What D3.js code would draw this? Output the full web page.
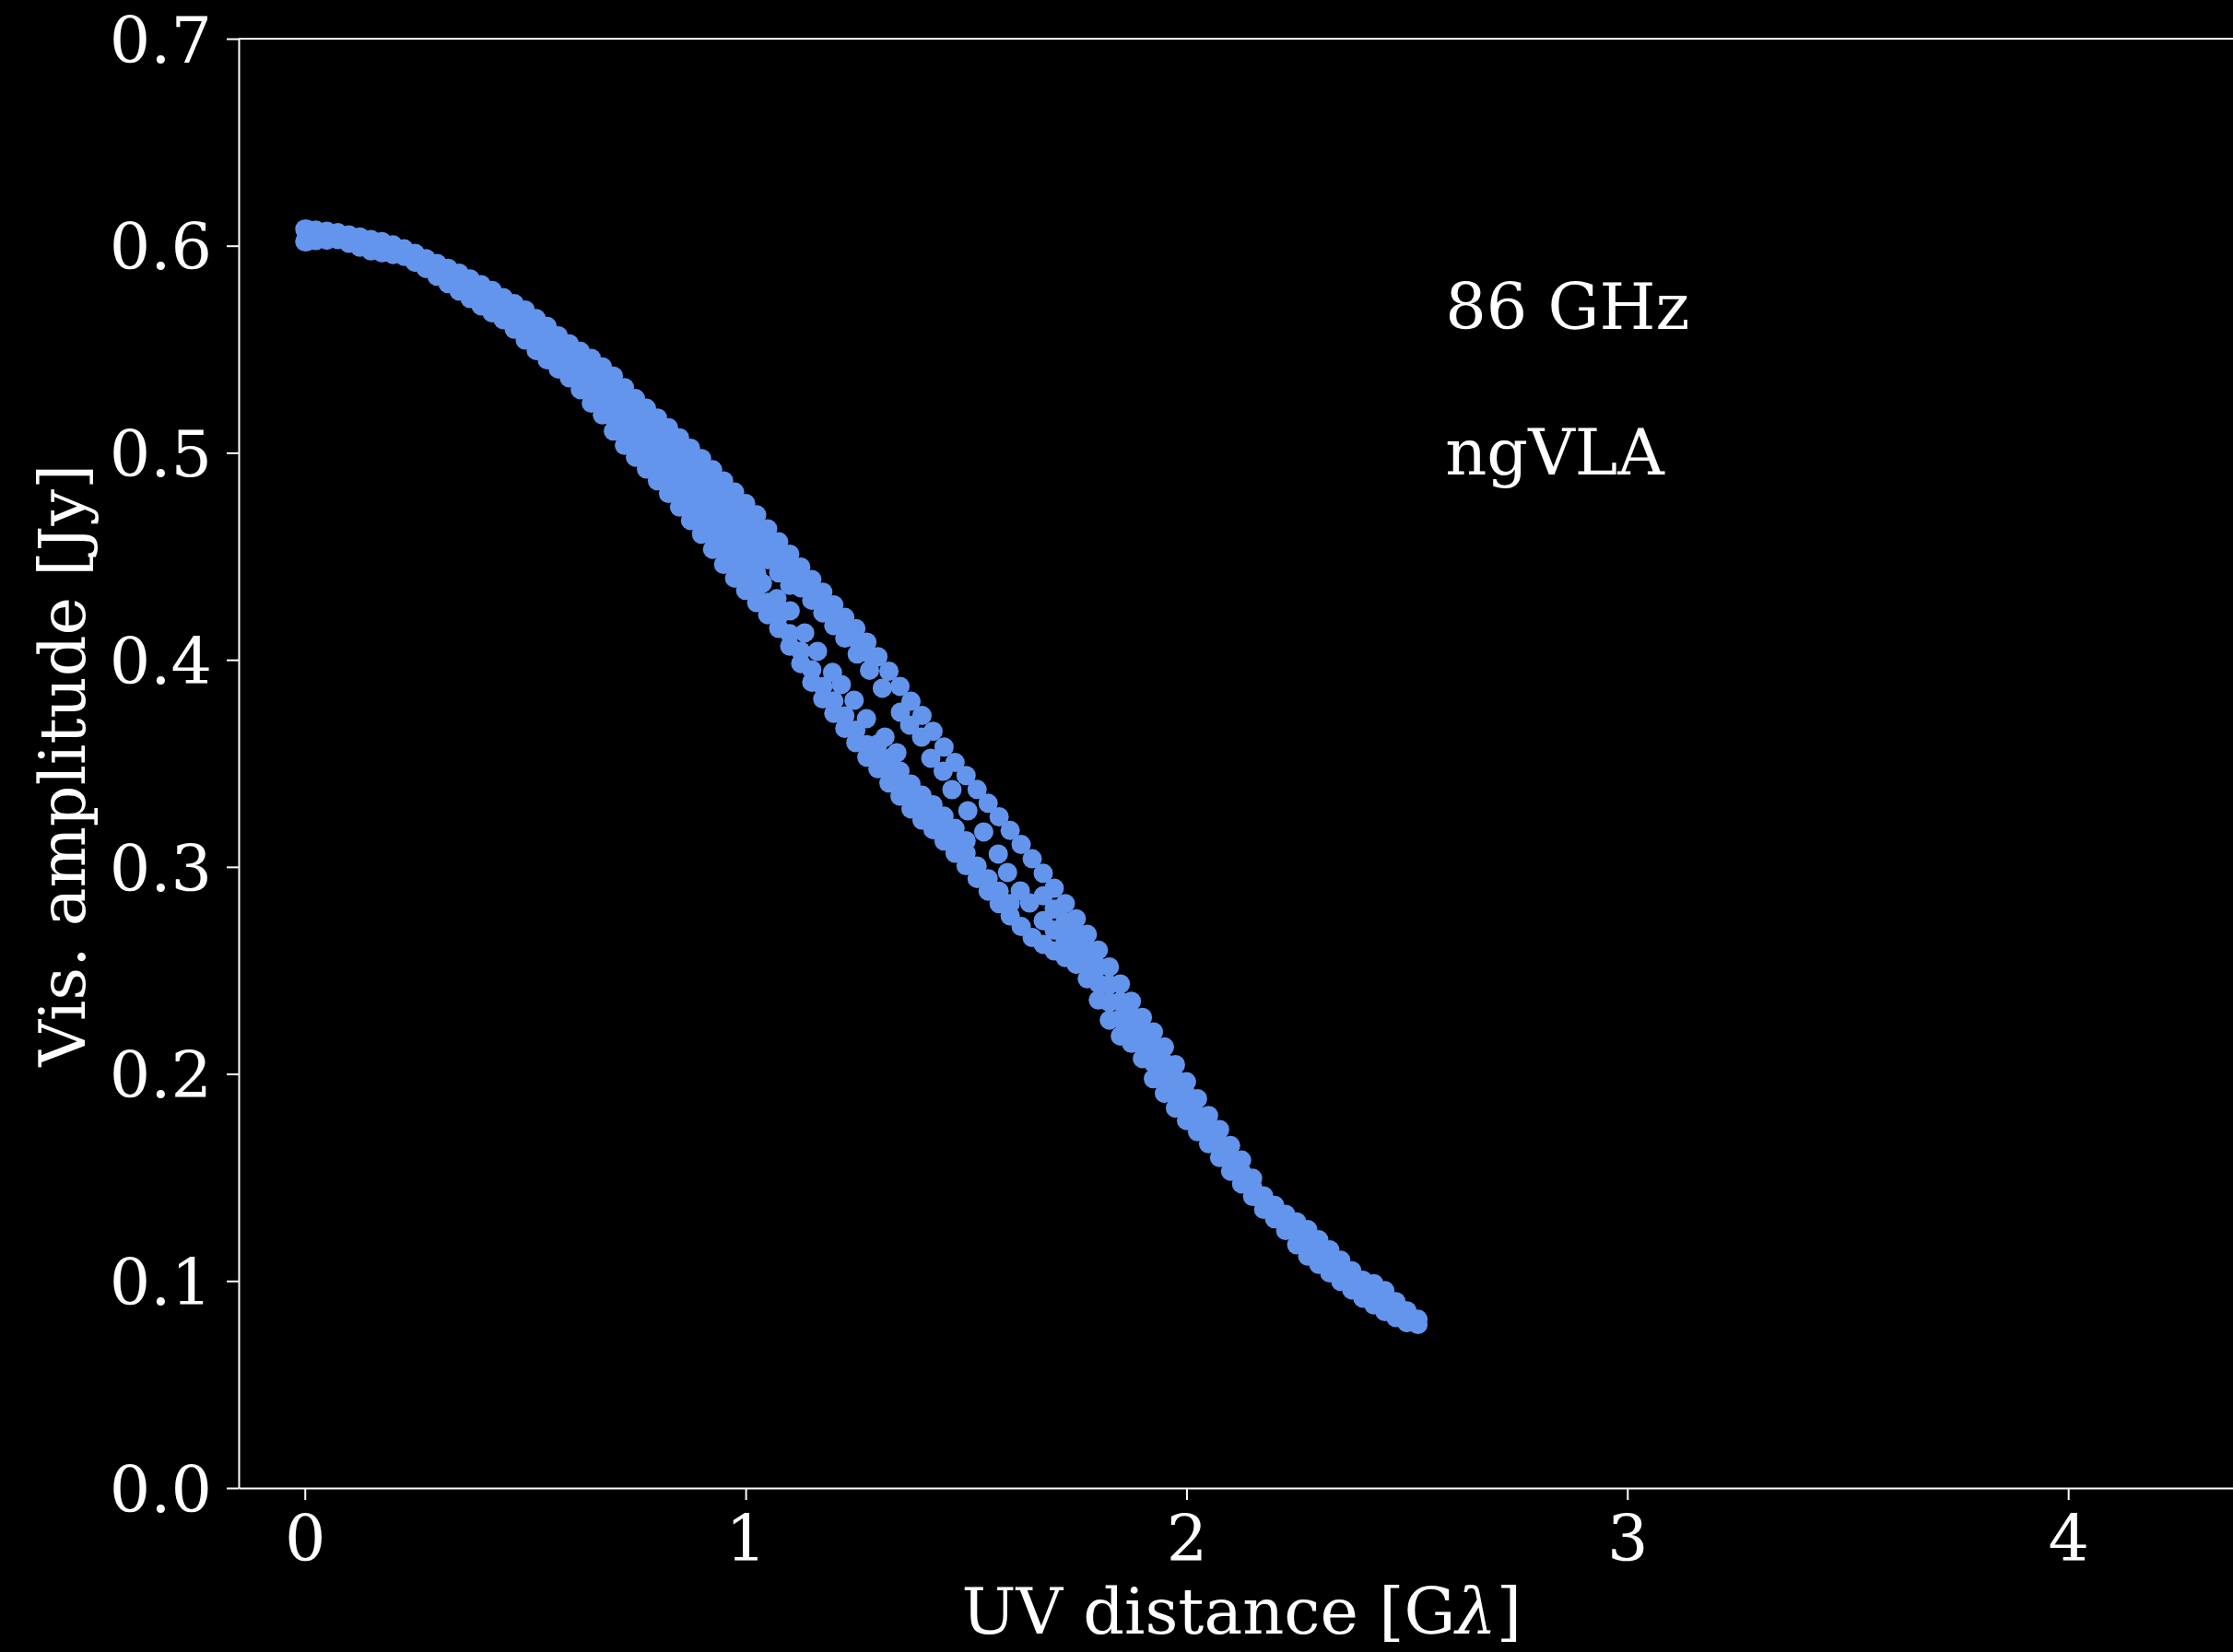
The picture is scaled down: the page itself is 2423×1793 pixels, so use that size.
<!DOCTYPE html>
<html>
<head>
<meta charset="utf-8">
<script src="https://cdn.jsdelivr.net/npm/d3@7"></script>
<style>
  html, body { margin: 0; padding: 0; background: #000; }
  svg { display: block; }
</style>
</head>
<body>
<svg id="chart" width="2423" height="1793"></svg>
<script>
// ---- axes ----
const xDomain = [-0.15, 4.4];
const yDomain = [0, 0.7];
const xTicks = [0, 1, 2, 3, 4];
const yTicks = [0, 0.1, 0.2, 0.3, 0.4, 0.5, 0.6, 0.7];
const xLabel = "UV distance [G";
const xLabelGreek = "\u03bb";
const yLabel = "Vis. amplitude [Jy]";
const notes = [
  { text: "86 GHz", u: 2.587, amp: 0.560 },
  { text: "ngVLA",  u: 2.587, amp: 0.4895 }
];

// ---- visibilities: [uv distance (Gλ), amplitude (Jy)] ----
const shortSpacings = [[0.004, 0.608], [0.004, 0.605], [0.004, 0.602]];

const upperEnvelope = [
  [0.000,0.608],[0.025,0.6075],[0.050,0.607],[0.075,0.6063],[0.100,0.6052],[0.125,0.6042],
  [0.150,0.603],[0.175,0.602],[0.200,0.6004],[0.225,0.5985],[0.250,0.5963],[0.275,0.5938],
  [0.300,0.5914],[0.325,0.5891],[0.350,0.5868],[0.375,0.584],[0.400,0.5812],[0.425,0.5784],
  [0.450,0.575],[0.475,0.5721],[0.500,0.569],[0.525,0.5648],[0.550,0.561],[0.575,0.5565],
  [0.600,0.5526],[0.625,0.549],[0.650,0.5456],[0.675,0.5415],[0.700,0.537],[0.725,0.5315],
  [0.750,0.5262],[0.775,0.5215],[0.800,0.5168],[0.825,0.5121],[0.850,0.5072],[0.875,0.5022],
  [0.900,0.4972],[0.925,0.4918],[0.950,0.4864],[0.975,0.481],[1.000,0.4755],[1.025,0.47],
  [1.050,0.4633],[1.075,0.457],[1.100,0.451],[1.125,0.4448],[1.150,0.4388],[1.175,0.4327],
  [1.200,0.4265],[1.225,0.4205],[1.250,0.4151],[1.275,0.4085],[1.300,0.4015],[1.325,0.3945],
  [1.350,0.3872],[1.375,0.38],[1.400,0.3731],[1.425,0.3655],[1.450,0.3579],[1.475,0.3504],
  [1.500,0.3441],[1.525,0.3374],[1.550,0.3307],[1.575,0.3242],[1.600,0.3176],[1.625,0.3108],
  [1.650,0.3039],[1.675,0.2969],[1.700,0.2897],[1.725,0.2823],[1.750,0.2749],[1.775,0.2674],
  [1.800,0.2598],[1.825,0.2517],[1.850,0.2434],[1.875,0.2351],[1.900,0.2273],[1.925,0.2203],
  [1.950,0.213],[1.975,0.2045],[2.000,0.1962],[2.025,0.188],[2.050,0.1799],[2.075,0.1731],
  [2.100,0.1654],[2.125,0.1584],[2.150,0.1496],[2.175,0.1411],[2.200,0.1365],[2.225,0.1322],
  [2.250,0.1285],[2.275,0.1248],[2.300,0.1199],[2.325,0.115],[2.350,0.11],[2.375,0.1049],
  [2.400,0.1004],[2.425,0.0987],[2.450,0.0953],[2.475,0.09],[2.500,0.0856],[2.525,0.0815]
];

const lowerEnvelope = [
  [0.000,0.602],[0.025,0.6025],[0.050,0.6027],[0.075,0.603],[0.100,0.6012],[0.125,0.5993],
  [0.150,0.5975],[0.175,0.5966],[0.200,0.5958],[0.225,0.5949],[0.250,0.592],[0.275,0.589],
  [0.300,0.5853],[0.325,0.5817],[0.350,0.5782],[0.375,0.5745],[0.400,0.571],[0.425,0.5676],
  [0.450,0.5643],[0.475,0.5597],[0.500,0.5545],[0.525,0.5494],[0.550,0.5449],[0.575,0.5405],
  [0.600,0.5362],[0.625,0.5305],[0.650,0.524],[0.675,0.5183],[0.700,0.5105],[0.725,0.5036],
  [0.750,0.4979],[0.775,0.4922],[0.800,0.4865],[0.825,0.4804],[0.850,0.4738],[0.875,0.4673],
  [0.900,0.4607],[0.925,0.4534],[0.950,0.4461],[0.975,0.4395],[1.000,0.4335],[1.025,0.4276],
  [1.050,0.4218],[1.075,0.4152],[1.100,0.4066],[1.125,0.3982],[1.150,0.3892],[1.175,0.3811],
  [1.200,0.3741],[1.225,0.3669],[1.250,0.36],[1.275,0.353],[1.300,0.3474],[1.325,0.3405],
  [1.350,0.3342],[1.375,0.328],[1.400,0.3226],[1.425,0.318],[1.450,0.3125],[1.475,0.3066],
  [1.500,0.3006],[1.525,0.2944],[1.550,0.2883],[1.575,0.2822],[1.600,0.2763],[1.625,0.2712],
  [1.650,0.2659],[1.675,0.2626],[1.700,0.2594],[1.725,0.2562],[1.750,0.2529],[1.775,0.246],
  [1.800,0.2357],[1.825,0.226],[1.850,0.2183],[1.875,0.2148],[1.900,0.2074],[1.925,0.1977],
  [1.950,0.1906],[1.975,0.1835],[2.000,0.1775],[2.025,0.1721],[2.050,0.1663],[2.075,0.1596],
  [2.100,0.153],[2.125,0.1469],[2.150,0.1408],[2.175,0.1346],[2.200,0.13],[2.225,0.1244],
  [2.250,0.1175],[2.275,0.112],[2.300,0.108],[2.325,0.1039],[2.350,0.0998],[2.375,0.0957],
  [2.400,0.0917],[2.425,0.0884],[2.450,0.0852],[2.475,0.0823],[2.500,0.0799],[2.525,0.079]
];

// dense core of the curve, below 1 Gλ
const coreRowA = [
  [0.350,0.5825],[0.375,0.5793],[0.400,0.5761],[0.425,0.573],[0.450,0.5697],[0.475,0.5659],
  [0.500,0.5593],[0.525,0.5545],[0.550,0.5503],[0.575,0.5458],[0.600,0.5417],[0.625,0.5351],
  [0.650,0.5294],[0.675,0.5241],[0.700,0.5171],[0.725,0.5106],[0.750,0.505],[0.775,0.4995],
  [0.800,0.4926],[0.825,0.4867],[0.850,0.4805],[0.875,0.4743],[0.900,0.468],[0.925,0.4611],
  [0.950,0.4528],[0.975,0.4464],[1.000,0.4405],[1.025,0.4347]
];
const coreRowB = [
  [0.500,0.5642],[0.525,0.5597],[0.550,0.5556],[0.575,0.5512],[0.600,0.5471],[0.625,0.5398],
  [0.650,0.5348],[0.675,0.5299],[0.700,0.5238],[0.725,0.5176],[0.750,0.5121],[0.775,0.5069],
  [0.800,0.4986],[0.825,0.4931],[0.850,0.4872],[0.875,0.4813],[0.900,0.4753],[0.925,0.4688],
  [0.950,0.4595],[0.975,0.4533],[1.000,0.4475],[1.025,0.4417]
];
const coreRowC = [
  [0.625,0.5444],[0.650,0.5402],[0.675,0.5357],[0.700,0.5304],[0.725,0.5245],[0.750,0.5191],
  [0.775,0.5142],[0.800,0.5047],[0.825,0.4994],[0.850,0.4938],[0.875,0.4882],[0.900,0.4826],
  [0.925,0.4764],[0.950,0.4662],[0.975,0.4603],[1.000,0.4545],[1.025,0.4488]
];
const coreRowD = [
  [0.800,0.5107],[0.825,0.5058],[0.850,0.5005],[0.875,0.4952],[0.900,0.4899],[0.925,0.4841],
  [0.950,0.473],[0.975,0.4672],[1.000,0.4615],[1.025,0.4559]
];
const coreRowE = [[0.950,0.4797],[0.975,0.4741],[1.000,0.4685],[1.025,0.4629]];

// upper branch after the split
const upperBranchB = [
  [1.050,0.4583],[1.075,0.452],[1.100,0.446],[1.125,0.4398],[1.150,0.4338],[1.175,0.4277],
  [1.200,0.4215],[1.225,0.4155],[1.250,0.4101],[1.275,0.4035]
];
const upperBranchC = [
  [1.050,0.4533],[1.075,0.447],[1.100,0.441],[1.125,0.4348],[1.150,0.4288],[1.175,0.4227],
  [1.200,0.4165],[1.225,0.4105]
];
const upperBranchD = [[1.050,0.4483],[1.075,0.442],[1.100,0.436]];

// sparse tracks inside the loop
const loopTrackOuter = [
  [1.253,0.4028],[1.281,0.3950],[1.310,0.3863],[1.351,0.3747],[1.372,0.3685],[1.399,0.3627],
  [1.420,0.3525],[1.448,0.3462],[1.468,0.3373],[1.504,0.3271],[1.540,0.3169],[1.573,0.3062],
  [1.594,0.2973],[1.623,0.2884],[1.644,0.2826]
];
const loopTrackInner = [
  [1.038,0.4370],[1.071,0.4295],[1.101,0.4237],[1.134,0.4130],[1.163,0.4041],[1.197,0.3939],
  [1.217,0.3881],[1.246,0.3805],[1.274,0.3716],[1.316,0.3627],[1.343,0.3551]
];

// lower branch after the split
const lowerBranchB = [
  [1.050,0.4278],[1.075,0.4212],[1.100,0.4126],[1.125,0.4042],[1.150,0.3952],[1.175,0.3871],
  [1.200,0.3801],[1.225,0.3729],[1.250,0.366],[1.275,0.359],[1.300,0.3534],[1.325,0.3465],
  [1.350,0.3402],[1.375,0.334],[1.400,0.3286],[1.425,0.324],[1.450,0.3185],[1.475,0.3126],
  [1.500,0.3066],[1.525,0.3004],[1.550,0.2943],[1.575,0.2882],[1.600,0.2823]
];
const lowerBranchC = [
  [1.300,0.3594],[1.325,0.3525],[1.350,0.3462],[1.375,0.34],[1.400,0.3346],[1.425,0.33],
  [1.450,0.3245],[1.475,0.3186],[1.500,0.3126]
];

// long-baseline tail
const tailRowB = [
  [1.675,0.2860],[1.700,0.2796],[1.725,0.2736],[1.750,0.2676],[1.775,0.2603],[1.800,0.2518],
  [1.825,0.2431],[1.850,0.235],[1.875,0.2283],[1.900,0.2207],[1.925,0.2128],[1.950,0.2055],
  [1.975,0.1975],[2.000,0.19],[2.025,0.1801],[2.050,0.1731],[2.075,0.1664],[2.100,0.1592],
  [2.125,0.1527],[2.150,0.1452],[2.175,0.1379],[2.200,0.1333],[2.225,0.1283],[2.250,0.123],
  [2.275,0.1184],[2.300,0.114],[2.325,0.1095],[2.350,0.1049],[2.375,0.1003],[2.400,0.096],
  [2.425,0.0936],[2.450,0.0903],[2.475,0.0862],[2.500,0.0828]
];
const tailRowC = [
  [1.675,0.2740],[1.700,0.2695],[1.725,0.2649],[1.750,0.2602],[1.775,0.2531],[1.800,0.2437],
  [1.825,0.2346],[1.850,0.2267],[1.875,0.2216],[1.900,0.214],[1.925,0.2052],[1.950,0.1981],
  [1.975,0.1905],[2.000,0.1837]
];

const visibilities = [].concat(
  shortSpacings, upperEnvelope, lowerEnvelope,
  coreRowA, coreRowB, coreRowC, coreRowD, coreRowE,
  upperBranchB, upperBranchC, upperBranchD,
  loopTrackOuter, loopTrackInner,
  lowerBranchB, lowerBranchC,
  tailRowB, tailRowC
);

// ---- drawing ----
const W = 2423, H = 1793;
const font = "'DejaVu Serif', 'Liberation Serif', serif";
const fontSize = 70;

const svg = d3.select("#chart");
svg.append("rect").attr("width", W).attr("height", H).attr("fill", "#000");

const x = d3.scaleLinear().domain(xDomain).range([259, 2435.5]);
const y = d3.scaleLinear().domain(yDomain).range([1615, 42]);

// scatter
svg.append("g")
  .selectAll("circle")
  .data(visibilities)
  .join("circle")
  .attr("cx", d => x(d[0]))
  .attr("cy", d => y(d[1]))
  .attr("r", 10.5)
  .attr("fill", "#6495ED");

// frame
const frame = svg.append("g").attr("stroke", "#fff").attr("stroke-width", 2);
frame.append("line").attr("x1", x(xDomain[0])).attr("x2", x(xDomain[1]))
  .attr("y1", y(yDomain[1])).attr("y2", y(yDomain[1]));
frame.append("line").attr("x1", x(xDomain[1])).attr("x2", x(xDomain[1]))
  .attr("y1", y(yDomain[0])).attr("y2", y(yDomain[1]));

// axes
const xAxis = svg.append("g")
  .attr("transform", `translate(0,${y(yDomain[0])})`)
  .call(d3.axisBottom(x).tickValues(xTicks).tickFormat(d3.format("d"))
        .tickSize(13).tickSizeOuter(0).tickPadding(16));
const yAxis = svg.append("g")
  .attr("transform", `translate(${x(xDomain[0])},0)`)
  .call(d3.axisLeft(y).tickValues(yTicks).tickFormat(d3.format(".1f"))
        .tickSize(13).tickSizeOuter(0).tickPadding(16));

[xAxis, yAxis].forEach(g => {
  g.select(".domain").attr("stroke", "#fff").attr("stroke-width", 2);
  g.selectAll(".tick line").attr("stroke", "#fff").attr("stroke-width", 2);
  g.selectAll(".tick text")
    .attr("fill", "#fff")
    .style("font-family", font)
    .style("font-size", fontSize + "px");
});
yAxis.selectAll(".tick text").attr("dy", "0.36em");

// axis titles
const xt = svg.append("text")
  .attr("x", (x(xDomain[0]) + x(xDomain[1])) / 2)
  .attr("y", 1773)
  .attr("text-anchor", "middle")
  .attr("fill", "#fff")
  .style("font-family", font)
  .style("font-size", fontSize + "px");
xt.append("tspan").text(xLabel);
xt.append("tspan").style("font-style", "italic").text(xLabelGreek);
xt.append("tspan").text("]");

svg.append("text")
  .attr("transform", `translate(92,${(y(yDomain[0]) + y(yDomain[1])) / 2 + 2}) rotate(-90)`)
  .attr("text-anchor", "middle")
  .attr("fill", "#fff")
  .style("font-family", font)
  .style("font-size", fontSize + "px")
  .text(yLabel);

// annotations
svg.append("g")
  .selectAll("text")
  .data(notes)
  .join("text")
  .attr("x", d => x(d.u))
  .attr("y", d => y(d.amp))
  .attr("fill", "#fff")
  .style("font-family", font)
  .style("font-size", fontSize + "px")
  .text(d => d.text);
</script>
</body>
</html>
